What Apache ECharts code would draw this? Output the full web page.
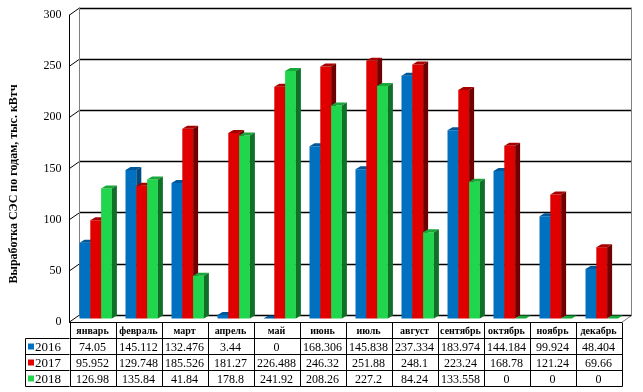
<!DOCTYPE html>
<html>
<head>
<meta charset="utf-8">
<script src="https://cdn.jsdelivr.net/npm/echarts@6/dist/echarts.min.js"></script>
<style>
  html, body { margin: 0; padding: 0; background: #fff; }
  #chart { width: 643px; height: 392px; }
</style>
</head>
<body>
<div id="chart"></div>
<script>
const months = ['январь', 'февраль', 'март', 'апрель', 'май', 'июнь', 'июль', 'август', 'сентябрь', 'октябрь', 'ноябрь', 'декабрь'];
const years = ['2016', '2017', '2018'];
const data2016 = [74.05, 145.112, 132.476, 3.44, 0, 168.306, 145.838, 237.334, 183.974, 144.184, 99.924, 48.404];
const data2017 = [95.952, 129.748, 185.526, 181.27, 226.488, 246.32, 251.88, 248.1, 223.24, 168.78, 121.24, 69.66];
const data2018 = [126.98, 135.84, 41.84, 178.8, 241.92, 208.26, 227.2, 84.24, 133.558, 0, 0, 0];
const yTicks = [0, 50, 100, 150, 200, 250, 300];
const yTitle = 'Выработка СЭС по годам, тыс. кВтч';

// front, top, side colours per year
const colors = [
  ['#0070c0', '#00589a', '#004a80'],
  ['#e00000', '#a80000', '#700000'],
  ['#20d64c', '#18a83a', '#0f7028']
];
const allData = [data2016, data2017, data2018];

// depth of the box and of the bars
const DX = 10, DY = -7;
const MY = -3.5, BD = 5, BDY = -3;
const BW = 10.8;

const chart = echarts.init(document.getElementById('chart'));

function barRender(s) {
  return function (params, api) {
    const i = api.value(0), v = api.value(1);
    const p0 = api.coord([i, 0]);
    const p1 = api.coord([i, v]);
    const left = p0[0] - 13 + s * BW;
    const yb = p0[1] + MY;
    const yt = p1[1] + MY;
    const c = colors[s];
    return {
      type: 'group',
      children: [
        { type: 'rect', shape: { x: left, y: yt, width: BW, height: yb - yt }, style: { fill: c[0] } },
        { type: 'polygon', shape: { points: [[left, yt], [left + BW, yt], [left + BW + BD, yt + BDY], [left + BD, yt + BDY]] }, style: { fill: c[1] } },
        { type: 'polygon', shape: { points: [[left + BW, yt], [left + BW + BD, yt + BDY], [left + BW + BD, yb + BDY], [left + BW, yb]] }, style: { fill: c[2] } }
      ]
    };
  };
}

const ROW = [322.5, 338.5, 354.5, 370.5, 386.5];
const font = '"Liberation Serif", "DejaVu Serif", serif';

function tableRender(params, api) {
  const i = api.value(0);
  const cx = api.coord([i, 0])[0];
  const cw = api.size([1, 0])[0];
  const x0 = Math.round(cx - cw / 2) + 0.5, x1 = Math.round(cx + cw / 2) + 0.5;
  const ch = [];
  ch.push({ type: 'line', shape: { x1: x0, y1: ROW[0], x2: x0, y2: ROW[4] }, style: { stroke: '#000', lineWidth: 1 } });
  ch.push({ type: 'line', shape: { x1: x1, y1: ROW[0], x2: x1, y2: ROW[4] }, style: { stroke: '#000', lineWidth: 1 } });
  for (let r = 1; r < 5; r++) {
    ch.push({ type: 'line', shape: { x1: x0, y1: ROW[r], x2: x1, y2: ROW[r] }, style: { stroke: '#000', lineWidth: 1 } });
  }
  ch.push({ type: 'text', style: { text: months[i], x: cx, y: (ROW[0] + ROW[1]) / 2 + 1, align: 'center', verticalAlign: 'middle', font: 'bold 10px ' + font, fill: '#000' } });
  for (let s = 0; s < 3; s++) {
    ch.push({ type: 'text', style: { text: String(allData[s][i]), x: cx, y: (ROW[s + 1] + ROW[s + 2]) / 2 + 1, align: 'center', verticalAlign: 'middle', font: '12px ' + font, fill: '#000' } });
  }
  return { type: 'group', children: ch };
}

// left header column of the table
const legendGraphic = [
  { type: 'line', shape: { x1: 25.5, y1: ROW[1], x2: 25.5, y2: ROW[4] }, style: { stroke: '#000', lineWidth: 1 } }
];
for (let r = 1; r < 5; r++) {
  legendGraphic.push({ type: 'line', shape: { x1: 25.5, y1: ROW[r], x2: 69.5, y2: ROW[r] }, style: { stroke: '#000', lineWidth: 1 } });
}
years.forEach((y, s) => {
  const cy = (ROW[s + 1] + ROW[s + 2]) / 2;
  legendGraphic.push({ type: 'rect', shape: { x: 28, y: cy - 3, width: 6, height: 6 }, style: { fill: colors[s][0] } });
  legendGraphic.push({ type: 'text', style: { text: y, x: 35, y: cy + 1, verticalAlign: 'middle', font: '13px ' + font, fill: '#000' } });
});
// slanted edges joining front axis to back wall
yTicks.forEach(t => {
  const yf = 322 - t * 307 / 300;
  legendGraphic.push({ type: 'line', shape: { x1: 69.5, y1: yf, x2: 69.5 + DX, y2: yf + DY }, style: { stroke: '#000', lineWidth: 1 } });
});
legendGraphic.push({ type: 'line', shape: { x1: 621.5, y1: 322.5, x2: 631.5, y2: 315.5 }, style: { stroke: '#808080', lineWidth: 1 } });
// rotated axis title
legendGraphic.push({ type: 'text', x: 14, y: 184, rotation: Math.PI / 2,
  style: { text: yTitle, align: 'center', verticalAlign: 'middle', font: 'bold 12px ' + font, fill: '#000' } });

const option = {
  animation: false,
  backgroundColor: '#fff',
  grid: [
    { left: 79.5, right: 11.5, top: 8, bottom: 77 },
    { left: 69.5, right: 21.5, top: 15, bottom: 70 }
  ],
  xAxis: [
    { type: 'category', gridIndex: 0, data: months, show: false },
    { type: 'category', gridIndex: 1, data: months, axisLine: { show: true, lineStyle: { color: '#000' } },
      axisTick: { show: false }, axisLabel: { show: false } }
  ],
  yAxis: [
    { type: 'value', gridIndex: 0, min: 0, max: 300, interval: 50,
      axisLine: { show: true, lineStyle: { color: '#808080' } }, axisTick: { show: false }, axisLabel: { show: false },
      splitLine: { show: true, lineStyle: { color: '#000', width: 1.3 } } },
    { type: 'value', gridIndex: 0, min: 0, max: 300, interval: 50, position: 'right',
      axisLine: { show: true, lineStyle: { color: '#808080' } }, axisTick: { show: false }, axisLabel: { show: false },
      splitLine: { show: false } },
    { type: 'value', gridIndex: 1, min: 0, max: 300, interval: 50,
      axisLine: { show: true, lineStyle: { color: '#000' } }, axisTick: { show: false },
      axisLabel: { fontFamily: 'Liberation Serif', fontSize: 12, color: '#000', margin: 8 },
      splitLine: { show: false } }
  ],
  graphic: legendGraphic,
  series: allData.map((d, s) => ({
    name: years[s],
    type: 'custom',
    xAxisIndex: 1,
    yAxisIndex: 2,
    renderItem: barRender(s),
    data: d.map((v, i) => [i, v]),
    z: 3
  })).concat([{
    type: 'custom',
    xAxisIndex: 1,
    yAxisIndex: 2,
    renderItem: tableRender,
    data: months.map((m, i) => [i, 0]),
    clip: false,
    z: 4
  }])
};

chart.setOption(option);
</script>
</body>
</html>
